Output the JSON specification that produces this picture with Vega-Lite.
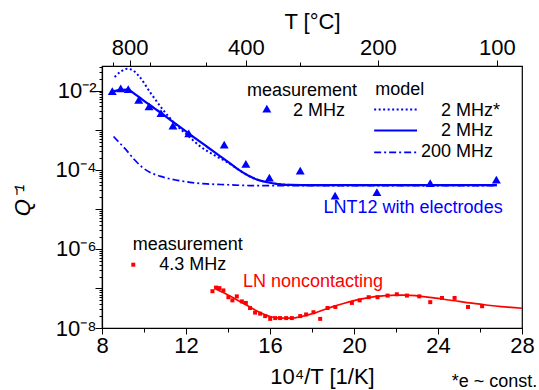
{
  "$schema": "https://vega.github.io/schema/vega-lite/v6.json",
  "width": 420,
  "height": 262,
  "autosize": {"type": "none"},
  "padding": {"left": 102, "top": 66, "right": 17, "bottom": 62},
  "datasets": {
    "tri": [
      {"x": 8.49, "q": 0.0096}, {"x": 8.89, "q": 0.0114}, {"x": 9.25, "q": 0.0108},
      {"x": 9.75, "q": 0.0058}, {"x": 10.24, "q": 0.004}, {"x": 10.81, "q": 0.0027},
      {"x": 11.38, "q": 0.0013}, {"x": 12.13, "q": 0.00083}, {"x": 13.82, "q": 0.00043},
      {"x": 14.85, "q": 0.00014}, {"x": 15.97, "q": 0.000063}, {"x": 17.44, "q": 0.000095},
      {"x": 19.1, "q": 0.000022}, {"x": 21.09, "q": 0.000027}, {"x": 23.63, "q": 0.000046},
      {"x": 26.78, "q": 0.000056}
    ],
    "sq": [
      {"x": 13.26, "q": 8.5e-8}, {"x": 13.43, "q": 1.05e-7}, {"x": 13.59, "q": 1.02e-7},
      {"x": 13.78, "q": 8.9e-8}, {"x": 14.02, "q": 6.0e-8}, {"x": 14.21, "q": 5.0e-8},
      {"x": 14.42, "q": 6.3e-8}, {"x": 14.66, "q": 4.7e-8}, {"x": 14.85, "q": 4.3e-8},
      {"x": 15.05, "q": 3.2e-8}, {"x": 15.29, "q": 2.45e-8}, {"x": 15.53, "q": 2.3e-8},
      {"x": 15.77, "q": 2.0e-8}, {"x": 16.01, "q": 1.7e-8}, {"x": 16.25, "q": 1.78e-8},
      {"x": 16.48, "q": 1.78e-8}, {"x": 16.77, "q": 1.78e-8}, {"x": 17.04, "q": 1.78e-8},
      {"x": 17.44, "q": 2.0e-8}, {"x": 17.72, "q": 2.2e-8}, {"x": 18.07, "q": 2.5e-8},
      {"x": 18.39, "q": 1.7e-8}, {"x": 18.74, "q": 3.2e-8}, {"x": 19.11, "q": 3.4e-8},
      {"x": 19.9, "q": 4.3e-8}, {"x": 20.27, "q": 5.0e-8}, {"x": 20.7, "q": 6.0e-8},
      {"x": 21.12, "q": 6.0e-8}, {"x": 21.6, "q": 6.6e-8}, {"x": 22.04, "q": 7.1e-8},
      {"x": 22.52, "q": 6.6e-8}, {"x": 23.11, "q": 6.3e-8}, {"x": 23.63, "q": 4.5e-8},
      {"x": 24.19, "q": 5.75e-8}, {"x": 24.79, "q": 5.75e-8}, {"x": 25.43, "q": 3.4e-8},
      {"x": 26.1, "q": 3.55e-8}
    ],
    "solid": [
      {"x": 8.4, "q": 0.0089}, {"x": 8.8, "q": 0.0102}, {"x": 9.2, "q": 0.0105},
      {"x": 9.6, "q": 0.0079}, {"x": 10.0, "q": 0.0055}, {"x": 10.5, "q": 0.00355},
      {"x": 11.0, "q": 0.00229}, {"x": 11.5, "q": 0.00145}, {"x": 12.0, "q": 0.00093},
      {"x": 12.5, "q": 0.00059}, {"x": 13.0, "q": 0.00038}, {"x": 13.5, "q": 0.000245},
      {"x": 14.0, "q": 0.000158}, {"x": 14.5, "q": 0.0001}, {"x": 15.0, "q": 0.0000692},
      {"x": 15.5, "q": 0.0000537}, {"x": 16.0, "q": 0.0000468}, {"x": 16.5, "q": 0.0000427},
      {"x": 17.0, "q": 0.0000412}, {"x": 18.0, "q": 0.0000407}, {"x": 26.8, "q": 0.0000407}
    ],
    "dotted": [
      {"x": 8.6, "q": 0.0219}, {"x": 8.9, "q": 0.0302}, {"x": 9.2, "q": 0.0355},
      {"x": 9.5, "q": 0.0316}, {"x": 9.8, "q": 0.0219}, {"x": 10.3, "q": 0.0089},
      {"x": 10.9, "q": 0.0033}, {"x": 11.5, "q": 0.00141}, {"x": 12.1, "q": 0.00072},
      {"x": 12.7, "q": 0.00038}, {"x": 13.3, "q": 0.00024}, {"x": 14.0, "q": 0.000151},
      {"x": 14.5, "q": 0.0001}, {"x": 15.0, "q": 0.0000692}, {"x": 15.5, "q": 0.0000537},
      {"x": 16.0, "q": 0.0000468}, {"x": 16.5, "q": 0.0000427}, {"x": 17.0, "q": 0.0000412},
      {"x": 18.0, "q": 0.0000407}, {"x": 26.8, "q": 0.0000407}
    ],
    "dashdot": [
      {"x": 8.55, "q": 0.00069}, {"x": 8.8, "q": 0.0005}, {"x": 9.1, "q": 0.00034},
      {"x": 9.5, "q": 0.00019}, {"x": 9.9, "q": 0.000117}, {"x": 10.3, "q": 0.000085},
      {"x": 10.8, "q": 0.0000676}, {"x": 11.5, "q": 0.000055}, {"x": 12.2, "q": 0.0000479},
      {"x": 13.0, "q": 0.0000437}, {"x": 14.0, "q": 0.0000417}, {"x": 15.0, "q": 0.0000398},
      {"x": 26.8, "q": 0.0000398}
    ],
    "ln": [
      {"x": 13.4, "q": 9.8e-8}, {"x": 14.0, "q": 6.8e-8}, {"x": 14.5, "q": 4.9e-8},
      {"x": 15.0, "q": 3.47e-8}, {"x": 15.5, "q": 2.51e-8}, {"x": 16.0, "q": 1.95e-8},
      {"x": 16.5, "q": 1.78e-8}, {"x": 17.0, "q": 1.78e-8}, {"x": 17.5, "q": 1.95e-8},
      {"x": 18.0, "q": 2.29e-8}, {"x": 18.5, "q": 2.82e-8}, {"x": 19.0, "q": 3.47e-8},
      {"x": 19.5, "q": 4.17e-8}, {"x": 20.0, "q": 4.9e-8}, {"x": 20.5, "q": 5.6e-8},
      {"x": 21.0, "q": 6.2e-8}, {"x": 21.5, "q": 6.6e-8}, {"x": 22.0, "q": 6.8e-8},
      {"x": 22.5, "q": 6.8e-8}, {"x": 23.0, "q": 6.5e-8}, {"x": 23.5, "q": 6.0e-8},
      {"x": 24.0, "q": 5.6e-8}, {"x": 24.5, "q": 5.1e-8}, {"x": 25.0, "q": 4.7e-8},
      {"x": 25.5, "q": 4.3e-8}, {"x": 26.0, "q": 4.0e-8}, {"x": 26.5, "q": 3.7e-8},
      {"x": 27.0, "q": 3.47e-8}, {"x": 28.0, "q": 3.16e-8}
    ]
  },
  "layer": [
    {
      "data": {"name": "ln"},
      "mark": {"type": "line", "color": "#ff0000", "strokeWidth": 1.7, "interpolate": "monotone"},
      "encoding": {
        "x": {"field": "x", "type": "quantitative", "scale": {"domain": [8, 28], "nice": false, "zero": false},
          "axis": {"orient": "bottom", "values": [8, 12, 16, 20, 24, 28], "tickSize": 6, "labelPadding": 1,
            "title": "10⁴/T [1/K]", "titleX": 220, "titleY": 55, "titleBaseline": "alphabetic", "titleAlign": "center"}},
        "y": {"field": "q", "type": "quantitative", "scale": {"type": "log", "domain": [1e-8, 0.0417], "nice": false},
          "axis": {"orient": "left", "values": [1e-8, 1e-7, 1e-6, 1e-5, 1e-4, 1e-3, 1e-2], "tickSize": 7, "labelPadding": -1,
            "labelExpr": "round(log(datum.value)/LN10) == -2 ? '10⁻²' : round(log(datum.value)/LN10) == -4 ? '10⁻⁴' : round(log(datum.value)/LN10) == -6 ? '10⁻⁶' : round(log(datum.value)/LN10) == -8 ? '10⁻⁸' : ''",
            "title": "Q⁻¹", "titleFontStyle": "italic", "titleX": -80, "titleY": 134, "titleAngle": -90, "titleBaseline": "middle", "titleAlign": "center"}}
      }
    },
    {
      "data": {"name": "sq"},
      "mark": {"type": "point", "shape": "square", "filled": true, "color": "#ff0000", "size": 16, "opacity": 1},
      "encoding": {
        "x": {"field": "x", "type": "quantitative", "scale": {"domain": [8, 28], "nice": false, "zero": false},
          "axis": {"orient": "bottom", "values": [10, 14, 18, 22, 26], "tickSize": 4, "labels": false, "domain": false, "title": null}},
        "y": {"field": "q", "type": "quantitative", "scale": {"type": "log", "domain": [1e-8, 0.0417], "nice": false},
          "axis": {"orient": "left", "tickSize": 3, "labels": false, "domain": false, "title": null,
            "values": [2e-8, 3e-8, 4e-8, 5e-8, 6e-8, 7e-8, 8e-8, 9e-8, 2e-7, 3e-7, 4e-7, 5e-7, 6e-7, 7e-7, 8e-7, 9e-7, 2e-6, 3e-6, 4e-6, 5e-6, 6e-6, 7e-6, 8e-6, 9e-6, 2e-5, 3e-5, 4e-5, 5e-5, 6e-5, 7e-5, 8e-5, 9e-5, 0.0002, 0.0003, 0.0004, 0.0005, 0.0006, 0.0007, 0.0008, 0.0009, 0.002, 0.003, 0.004, 0.005, 0.006, 0.007, 0.008, 0.009, 0.02, 0.03, 0.04]}}
      }
    },
    {
      "data": {"name": "dashdot"},
      "mark": {"type": "line", "color": "#0000ff", "strokeWidth": 1.7, "strokeDash": [7, 3, 2, 3], "interpolate": "monotone"},
      "encoding": {
        "x": {"field": "x", "type": "quantitative", "scale": {"domain": [8, 28], "nice": false, "zero": false},
          "axis": {"orient": "top", "values": [9.319, 14.856, 21.134, 26.799], "tickSize": 6, "labelPadding": 1,
            "labelExpr": "format(round(10000/datum.value - 273.15), 'd')",
            "title": "T [°C]", "titleX": 210, "titleY": -38, "titleBaseline": "alphabetic", "titleAlign": "center"}},
        "y": {"field": "q", "type": "quantitative", "scale": {"type": "log", "domain": [1e-8, 0.0417], "nice": false}, "axis": null}
      }
    },
    {
      "data": {"name": "dotted"},
      "mark": {"type": "line", "color": "#0000ff", "strokeWidth": 2, "strokeDash": [2, 2.5], "interpolate": "monotone"},
      "encoding": {
        "x": {"field": "x", "type": "quantitative", "scale": {"domain": [8, 28], "nice": false, "zero": false},
          "axis": {"orient": "top", "values": [8.524, 10.276, 12.934, 17.448], "tickSize": 4, "labels": false, "domain": false, "title": null}},
        "y": {"field": "q", "type": "quantitative", "scale": {"type": "log", "domain": [1e-8, 0.0417], "nice": false}, "axis": null}
      }
    },
    {
      "data": {"name": "solid"},
      "mark": {"type": "line", "color": "#0000ff", "strokeWidth": 2.2, "interpolate": "monotone"},
      "encoding": {
        "x": {"field": "x", "type": "quantitative", "axis": null},
        "y": {"field": "q", "type": "quantitative", "axis": null}
      }
    },
    {
      "data": {"name": "tri"},
      "mark": {"type": "point", "shape": "triangle-up", "filled": true, "color": "#0000ff", "size": 80, "opacity": 1},
      "encoding": {
        "x": {"field": "x", "type": "quantitative", "axis": null},
        "y": {"field": "q", "type": "quantitative", "axis": null}
      }
    },
    {
      "data": {"values": [{"x": 15.85, "q": 0.0035}]},
      "mark": {"type": "point", "shape": "triangle-up", "filled": true, "color": "#0000ff", "size": 80, "opacity": 1},
      "encoding": {
        "x": {"field": "x", "type": "quantitative", "axis": null},
        "y": {"field": "q", "type": "quantitative", "axis": null}
      }
    },
    {
      "data": {"values": [{"x": 9.49, "q": 3.98e-7}]},
      "mark": {"type": "point", "shape": "square", "filled": true, "color": "#ff0000", "size": 16, "opacity": 1},
      "encoding": {
        "x": {"field": "x", "type": "quantitative", "axis": null},
        "y": {"field": "q", "type": "quantitative", "axis": null}
      }
    },
    {
      "data": {"values": [{"x": 20.96, "q": 0.00331}, {"x": 23.0, "q": 0.00331}]},
      "mark": {"type": "line", "color": "#0000ff", "strokeWidth": 2, "strokeDash": [2, 2.5]},
      "encoding": {
        "x": {"field": "x", "type": "quantitative", "axis": null},
        "y": {"field": "q", "type": "quantitative", "axis": null}
      }
    },
    {
      "data": {"values": [{"x": 20.96, "q": 0.000977}, {"x": 23.0, "q": 0.000977}]},
      "mark": {"type": "line", "color": "#0000ff", "strokeWidth": 2.2},
      "encoding": {
        "x": {"field": "x", "type": "quantitative", "axis": null},
        "y": {"field": "q", "type": "quantitative", "axis": null}
      }
    },
    {
      "data": {"values": [{"x": 20.96, "q": 0.000275}, {"x": 23.0, "q": 0.000275}]},
      "mark": {"type": "line", "color": "#0000ff", "strokeWidth": 1.7, "strokeDash": [7, 3, 2, 3]},
      "encoding": {
        "x": {"field": "x", "type": "quantitative", "axis": null},
        "y": {"field": "q", "type": "quantitative", "axis": null}
      }
    },
    {
      "data": {"values": [
        {"x": 14.9, "q": 0.01, "t": "measurement"},
        {"x": 17.09, "q": 0.00313, "t": "2 MHz"},
        {"x": 21.01, "q": 0.0102, "t": "model"},
        {"x": 9.46, "q": 1.23e-6, "t": "measurement"},
        {"x": 10.73, "q": 3.8e-7, "t": "4.3 MHz"}
      ]},
      "mark": {"type": "text", "align": "left", "baseline": "middle", "fontSize": 18, "color": "black"},
      "encoding": {
        "x": {"field": "x", "type": "quantitative", "axis": null},
        "y": {"field": "q", "type": "quantitative", "axis": null},
        "text": {"field": "t"}
      }
    },
    {
      "data": {"values": [
        {"x": 26.95, "q": 0.00313, "t": "2 MHz*"},
        {"x": 26.62, "q": 0.000977, "t": "2 MHz"},
        {"x": 26.62, "q": 0.000272, "t": "200 MHz"},
        {"x": 28.73, "q": 4.3e-10, "t": "*e ~ const."}
      ]},
      "mark": {"type": "text", "align": "right", "baseline": "middle", "fontSize": 18, "color": "black"},
      "encoding": {
        "x": {"field": "x", "type": "quantitative", "axis": null},
        "y": {"field": "q", "type": "quantitative", "axis": null},
        "text": {"field": "t"}
      }
    },
    {
      "data": {"values": [{"x": 18.55, "q": 1.05e-5, "t": "LNT12 with electrodes"}]},
      "mark": {"type": "text", "align": "left", "baseline": "middle", "fontSize": 18, "color": "#0000ff"},
      "encoding": {
        "x": {"field": "x", "type": "quantitative", "axis": null},
        "y": {"field": "q", "type": "quantitative", "axis": null},
        "text": {"field": "t"}
      }
    },
    {
      "data": {"values": [{"x": 14.71, "q": 1.45e-7, "t": "LN noncontacting"}]},
      "mark": {"type": "text", "align": "left", "baseline": "middle", "fontSize": 18, "color": "#ff0000"},
      "encoding": {
        "x": {"field": "x", "type": "quantitative", "axis": null},
        "y": {"field": "q", "type": "quantitative", "axis": null},
        "text": {"field": "t"}
      }
    }
  ],
  "resolve": {"axis": {"x": "independent", "y": "independent"}},
  "config": {
    "font": "Liberation Sans",
    "view": {"stroke": "black", "strokeWidth": 1.2},
    "axis": {
      "grid": false,
      "domainColor": "black",
      "domainWidth": 1.2,
      "tickColor": "black",
      "tickWidth": 1,
      "labelColor": "black",
      "titleColor": "black",
      "labelFont": "Liberation Sans",
      "titleFont": "Liberation Sans",
      "labelFontSize": 22,
      "titleFontSize": 22,
      "titleFontWeight": "normal",
      "labelOverlap": false,
      "labelFlush": false
    }
  }
}
